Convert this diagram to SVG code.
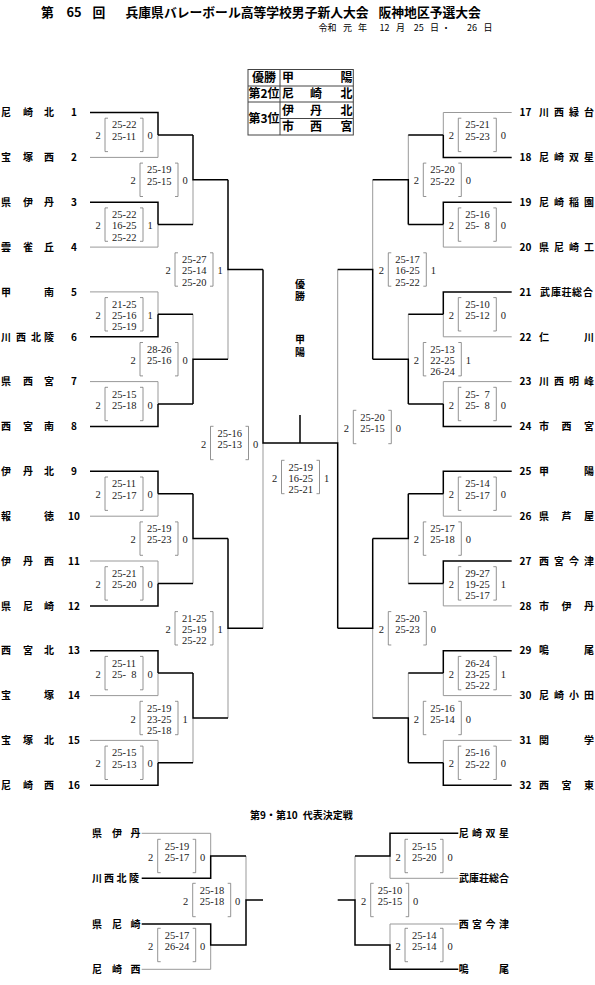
<svg xmlns="http://www.w3.org/2000/svg" xmlns:xlink="http://www.w3.org/1999/xlink" width="595" height="985" viewBox="0 0 595 985">
<style>
.ttl{font-family:"Noto Sans CJK JP","Noto Sans",sans-serif;font-size:12.8px;font-weight:bold;fill:#000}
.sub{font-family:"Noto Sans CJK JP","Noto Sans",sans-serif;font-size:9px;fill:#000}
.lbl{font-family:"Noto Sans CJK JP","Noto Sans",sans-serif;font-size:10px;font-weight:bold;fill:#000;text-anchor:middle}
.lg{font-family:"Noto Sans CJK JP","Noto Sans",sans-serif;font-size:12px;font-weight:bold;fill:#000;text-anchor:middle}
.sc{font-family:"Liberation Serif",serif;font-size:10.5px;fill:#222}
.sn{font-family:"Liberation Serif",serif;font-size:10.5px;fill:#222;text-anchor:middle}
.w{fill:none;stroke:#000;stroke-width:1.5}
.l{fill:none;stroke:#999;stroke-width:1}
.b{fill:none;stroke:#777;stroke-width:0.8}
</style>
<defs>
<path id="brk" class="b" d="M3,-16.7H0V16.7H3M35,-16.7H38V16.7H35"/>
</defs>
<rect width="595" height="985" fill="#fff"/>
<g id="title">
<text class="ttl" y="17"><tspan x="41">第</tspan><tspan x="66.5">65</tspan><tspan x="92.5">回</tspan><tspan x="125.5">兵庫県バレーボール高等学校男子新人大会</tspan><tspan x="378.5">阪神地区予選大会</tspan></text>
<text class="sub" y="31"><tspan x="318.5">令和</tspan><tspan x="343">元</tspan><tspan x="358">年</tspan><tspan x="379.5">12</tspan><tspan x="396">月</tspan><tspan x="413.8">25</tspan><tspan x="430">日</tspan><tspan x="441.5">・</tspan><tspan x="467">26</tspan><tspan x="483.5">日</tspan></text>
</g>
<g id="legend">
<rect x="248" y="69.5" width="105.3" height="65.5" fill="none" stroke="#444" stroke-width="1"/>
<path d="M280,69.5V135M248,86H353.3M248,102H353.3M280,118.5H353.3" fill="none" stroke="#444" stroke-width="1"/>
<text class="lg" x="264" y="82.2">優勝</text>
<text class="lg" x="264" y="98.4">第2位</text>
<text class="lg" x="264" y="123.3">第3位</text>
<text class="lg" x="288 346.5" y="82.2">甲陽</text>
<text class="lg" x="288 316 346.5" y="98.4">尼崎北</text>
<text class="lg" x="288 316 346.5" y="114.7">伊丹北</text>
<text class="lg" x="288 316 346.5" y="131.2">市西宮</text>
</g>
<g id="champion">
<text class="lbl" x="300 300" y="287.5 300">優勝</text>
<text class="lbl" x="300 300" y="343 356">甲陽</text>
</g>
<g id="connectors">
<path class="l" d="M90,157.4H158V134.9M90,247.1H158V224.6M90,291.9H158V314.3M90,381.6H158V404M90,516.2H158V493.7M90,561H158V583.4M90,695.6H158V673.1M90,740.4H158V762.8M193,224.6V179.8M193,314.3V359.2M193,583.4V538.6M193,762.8V718M228,359.2V269.5M228,718V628.3M263,628.3V443"/>
<path class="l" d="M511.7,112.5H443.3V134.9M511.7,247.1H443.3V224.6M511.7,336.8H443.3V314.3M511.7,381.6H443.3V404M511.7,516.2H443.3V493.7M511.7,605.9H443.3V583.4M511.7,695.6H443.3V673.1M511.7,740.4H443.3V762.8M408.3,134.9V179.8M408.3,314.3V359.2M408.3,583.4V538.6M408.3,673.1V718M372.7,179.8V269.5M372.7,718V628.3M337.7,269.5V443"/>
<path class="l" d="M141.7,833.3H210.7V856M141.7,969.3H210.7V945M246,856V900M458.3,878.3H390V856M458.3,924H390V945M355,856V900"/>
<path class="w" d="M90,112.5H158V134.9M90,202.2H158V224.6M90,336.8H158V314.3M90,426.5H158V404M90,471.3H158V493.7M90,605.9H158V583.4M90,650.7H158V673.1M90,785.3H158V762.8M158,134.9H193M158,224.6H193M158,314.3H193M158,404H193M158,493.7H193M158,583.4H193M158,673.1H193M158,762.8H193M193,134.9V179.8H228M193,404V359.2H228M193,493.7V538.6H228M193,673.1V718H228M228,179.8V269.5H263M228,538.6V628.3H263M263,269.5V443H300"/>
<path class="w" d="M511.7,157.4H443.3V134.9M511.7,202.2H443.3V224.6M511.7,291.9H443.3V314.3M511.7,426.5H443.3V404M511.7,471.3H443.3V493.7M511.7,561H443.3V583.4M511.7,650.7H443.3V673.1M511.7,785.3H443.3V762.8M443.3,134.9H408.3M443.3,224.6H408.3M443.3,314.3H408.3M443.3,404H408.3M443.3,493.7H408.3M443.3,583.4H408.3M443.3,673.1H408.3M443.3,762.8H408.3M408.3,224.6V179.8H372.7M408.3,404V359.2H372.7M408.3,493.7V538.6H372.7M408.3,762.8V718H372.7M372.7,359.2V269.5H337.7M372.7,538.6V628.3H337.7M337.7,628.3V443H300M300,443V415"/>
<path class="w" d="M141.7,878.3H210.7V856H246M141.7,924H210.7V945H246V900H263M458.3,833.3H390V856H355M458.3,969.3H390V945H355V900H337.7"/>
</g>
<g id="teams-left">
<g id="t1"><text class="lbl" x="6 28 49" y="116.2">尼崎北</text><text class="lbl" x="74" y="116.2">1</text></g>
<g id="t2"><text class="lbl" x="6 28 49" y="161.1">宝塚西</text><text class="lbl" x="74" y="161.1">2</text></g>
<g id="t3"><text class="lbl" x="6 28 49" y="205.9">県伊丹</text><text class="lbl" x="74" y="205.9">3</text></g>
<g id="t4"><text class="lbl" x="6 28 49" y="250.8">雲雀丘</text><text class="lbl" x="74" y="250.8">4</text></g>
<g id="t5"><text class="lbl" x="6 49" y="295.6">甲南</text><text class="lbl" x="74" y="295.6">5</text></g>
<g id="t6"><text class="lbl" x="6 21 36 49" y="340.5">川西北陵</text><text class="lbl" x="74" y="340.5">6</text></g>
<g id="t7"><text class="lbl" x="6 28 49" y="385.3">県西宮</text><text class="lbl" x="74" y="385.3">7</text></g>
<g id="t8"><text class="lbl" x="6 28 49" y="430.2">西宮南</text><text class="lbl" x="74" y="430.2">8</text></g>
<g id="t9"><text class="lbl" x="6 28 49" y="475">伊丹北</text><text class="lbl" x="74" y="475">9</text></g>
<g id="t10"><text class="lbl" x="6 49" y="519.9">報徳</text><text class="lbl" x="74" y="519.9">10</text></g>
<g id="t11"><text class="lbl" x="6 28 49" y="564.7">伊丹西</text><text class="lbl" x="74" y="564.7">11</text></g>
<g id="t12"><text class="lbl" x="6 28 49" y="609.6">県尼崎</text><text class="lbl" x="74" y="609.6">12</text></g>
<g id="t13"><text class="lbl" x="6 28 49" y="654.4">西宮北</text><text class="lbl" x="74" y="654.4">13</text></g>
<g id="t14"><text class="lbl" x="6 49" y="699.3">宝塚</text><text class="lbl" x="74" y="699.3">14</text></g>
<g id="t15"><text class="lbl" x="6 28 49" y="744.1">宝塚北</text><text class="lbl" x="74" y="744.1">15</text></g>
<g id="t16"><text class="lbl" x="6 28 49" y="789">尼崎西</text><text class="lbl" x="74" y="789">16</text></g>
</g>
<g id="teams-right">
<g id="t17"><text class="lbl" x="525.5" y="116.2">17</text><text class="lbl" x="544 559 574 589" y="116.2">川西緑台</text></g>
<g id="t18"><text class="lbl" x="525.5" y="161.1">18</text><text class="lbl" x="544 559 574 589" y="161.1">尼崎双星</text></g>
<g id="t19"><text class="lbl" x="525.5" y="205.9">19</text><text class="lbl" x="544 559 574 589" y="205.9">尼崎稲園</text></g>
<g id="t20"><text class="lbl" x="525.5" y="250.8">20</text><text class="lbl" x="544 559 574 589" y="250.8">県尼崎工</text></g>
<g id="t21"><text class="lbl" x="525.5" y="295.6">21</text><text class="lbl" x="545 556 566.5 577 588" y="295.6">武庫荘総合</text></g>
<g id="t22"><text class="lbl" x="525.5" y="340.5">22</text><text class="lbl" x="544 589" y="340.5">仁川</text></g>
<g id="t23"><text class="lbl" x="525.5" y="385.3">23</text><text class="lbl" x="544 559 574 589" y="385.3">川西明峰</text></g>
<g id="t24"><text class="lbl" x="525.5" y="430.2">24</text><text class="lbl" x="544 566.5 589" y="430.2">市西宮</text></g>
<g id="t25"><text class="lbl" x="525.5" y="475">25</text><text class="lbl" x="544 589" y="475">甲陽</text></g>
<g id="t26"><text class="lbl" x="525.5" y="519.9">26</text><text class="lbl" x="544 566.5 589" y="519.9">県芦屋</text></g>
<g id="t27"><text class="lbl" x="525.5" y="564.7">27</text><text class="lbl" x="544 559 574 589" y="564.7">西宮今津</text></g>
<g id="t28"><text class="lbl" x="525.5" y="609.6">28</text><text class="lbl" x="544 566.5 589" y="609.6">市伊丹</text></g>
<g id="t29"><text class="lbl" x="525.5" y="654.4">29</text><text class="lbl" x="544 589" y="654.4">鳴尾</text></g>
<g id="t30"><text class="lbl" x="525.5" y="699.3">30</text><text class="lbl" x="544 559 574 589" y="699.3">尼崎小田</text></g>
<g id="t31"><text class="lbl" x="525.5" y="744.1">31</text><text class="lbl" x="544 589" y="744.1">関学</text></g>
<g id="t32"><text class="lbl" x="525.5" y="789">32</text><text class="lbl" x="544 566.5 589" y="789">西宮東</text></g>
</g>
<g id="playoff">
<text class="ttl" style="font-size:10px" y="818.7"><tspan x="250">第9・第10</tspan><tspan x="302.7">代表決定戦</tspan></text>
<g id="p1"><text class="lbl" x="97 117 135.5" y="837">県伊丹</text></g>
<g id="p2"><text class="lbl" x="97 109 121.5 134" y="882">川西北陵</text></g>
<g id="p3"><text class="lbl" x="97 117 135.5" y="927.7">県尼崎</text></g>
<g id="p4"><text class="lbl" x="97 117 135.5" y="973">尼崎西</text></g>
<g id="p5"><text class="lbl" x="463.7 477 490.5 504" y="837">尼崎双星</text></g>
<g id="p6"><text class="lbl" x="464 474 484 494 504" y="882">武庫荘総合</text></g>
<g id="p7"><text class="lbl" x="463.7 477 490.5 504" y="927.7">西宮今津</text></g>
<g id="p8"><text class="lbl" x="463.7 504" y="973">鳴尾</text></g>
</g>
<g id="scores">
<g transform="translate(105,134.9)"><use href="#brk"/><text class="sn" x="-7" y="4.5">2</text><text class="sc"><tspan x="7" y="-6.5">25-22</tspan><tspan x="7" y="4.8">25-11</tspan></text><text class="sn" x="45" y="4.5">0</text></g>
<g transform="translate(105,224.6)"><use href="#brk"/><text class="sn" x="-7" y="4.5">2</text><text class="sc"><tspan x="7" y="-6.5">25-22</tspan><tspan x="7" y="4.8">16-25</tspan><tspan x="7" y="16">25-22</tspan></text><text class="sn" x="45" y="4.5">1</text></g>
<g transform="translate(105,314.3)"><use href="#brk"/><text class="sn" x="-7" y="4.5">2</text><text class="sc"><tspan x="7" y="-6.5">21-25</tspan><tspan x="7" y="4.8">25-16</tspan><tspan x="7" y="16">25-19</tspan></text><text class="sn" x="45" y="4.5">1</text></g>
<g transform="translate(105,404)"><use href="#brk"/><text class="sn" x="-7" y="4.5">2</text><text class="sc"><tspan x="7" y="-6.5">25-15</tspan><tspan x="7" y="4.8">25-18</tspan></text><text class="sn" x="45" y="4.5">0</text></g>
<g transform="translate(105,493.7)"><use href="#brk"/><text class="sn" x="-7" y="4.5">2</text><text class="sc"><tspan x="7" y="-6.5">25-11</tspan><tspan x="7" y="4.8">25-17</tspan></text><text class="sn" x="45" y="4.5">0</text></g>
<g transform="translate(105,583.4)"><use href="#brk"/><text class="sn" x="-7" y="4.5">2</text><text class="sc"><tspan x="7" y="-6.5">25-21</tspan><tspan x="7" y="4.8">25-20</tspan></text><text class="sn" x="45" y="4.5">0</text></g>
<g transform="translate(105,673.1)"><use href="#brk"/><text class="sn" x="-7" y="4.5">2</text><text class="sc"><tspan x="7" y="-6.5">25-11</tspan><tspan x="7" y="4.8">25- <tspan dx="2.6">8</tspan></tspan></text><text class="sn" x="45" y="4.5">0</text></g>
<g transform="translate(105,762.8)"><use href="#brk"/><text class="sn" x="-7" y="4.5">2</text><text class="sc"><tspan x="7" y="-6.5">25-15</tspan><tspan x="7" y="4.8">25-13</tspan></text><text class="sn" x="45" y="4.5">0</text></g>
<g transform="translate(140,179.8)"><use href="#brk"/><text class="sn" x="-7" y="4.5">2</text><text class="sc"><tspan x="7" y="-6.5">25-19</tspan><tspan x="7" y="4.8">25-15</tspan></text><text class="sn" x="45" y="4.5">0</text></g>
<g transform="translate(140,359.2)"><use href="#brk"/><text class="sn" x="-7" y="4.5">2</text><text class="sc"><tspan x="7" y="-6.5">28-26</tspan><tspan x="7" y="4.8">25-16</tspan></text><text class="sn" x="45" y="4.5">0</text></g>
<g transform="translate(140,538.6)"><use href="#brk"/><text class="sn" x="-7" y="4.5">2</text><text class="sc"><tspan x="7" y="-6.5">25-19</tspan><tspan x="7" y="4.8">25-23</tspan></text><text class="sn" x="45" y="4.5">0</text></g>
<g transform="translate(140,718)"><use href="#brk"/><text class="sn" x="-7" y="4.5">2</text><text class="sc"><tspan x="7" y="-6.5">25-19</tspan><tspan x="7" y="4.8">23-25</tspan><tspan x="7" y="16">25-18</tspan></text><text class="sn" x="45" y="4.5">1</text></g>
<g transform="translate(175,269.5)"><use href="#brk"/><text class="sn" x="-7" y="4.5">2</text><text class="sc"><tspan x="7" y="-6.5">25-27</tspan><tspan x="7" y="4.8">25-14</tspan><tspan x="7" y="16">25-20</tspan></text><text class="sn" x="45" y="4.5">1</text></g>
<g transform="translate(175,628.3)"><use href="#brk"/><text class="sn" x="-7" y="4.5">2</text><text class="sc"><tspan x="7" y="-6.5">21-25</tspan><tspan x="7" y="4.8">25-19</tspan><tspan x="7" y="16">25-22</tspan></text><text class="sn" x="45" y="4.5">1</text></g>
<g transform="translate(210.5,443)"><use href="#brk"/><text class="sn" x="-7" y="4.5">2</text><text class="sc"><tspan x="7" y="-6.5">25-16</tspan><tspan x="7" y="4.8">25-13</tspan></text><text class="sn" x="45" y="4.5">0</text></g>
<g transform="translate(281.5,477)"><use href="#brk"/><text class="sn" x="-7" y="4.5">2</text><text class="sc"><tspan x="7" y="-6.5">25-19</tspan><tspan x="7" y="4.8">16-25</tspan><tspan x="7" y="16">25-21</tspan></text><text class="sn" x="45" y="4.5">1</text></g>
<g transform="translate(458.3,134.9)"><use href="#brk"/><text class="sn" x="-7" y="4.5">2</text><text class="sc"><tspan x="7" y="-6.5">25-21</tspan><tspan x="7" y="4.8">25-23</tspan></text><text class="sn" x="45" y="4.5">0</text></g>
<g transform="translate(458.3,224.6)"><use href="#brk"/><text class="sn" x="-7" y="4.5">2</text><text class="sc"><tspan x="7" y="-6.5">25-16</tspan><tspan x="7" y="4.8">25- <tspan dx="2.6">8</tspan></tspan></text><text class="sn" x="45" y="4.5">0</text></g>
<g transform="translate(458.3,314.3)"><use href="#brk"/><text class="sn" x="-7" y="4.5">2</text><text class="sc"><tspan x="7" y="-6.5">25-10</tspan><tspan x="7" y="4.8">25-12</tspan></text><text class="sn" x="45" y="4.5">0</text></g>
<g transform="translate(458.3,404)"><use href="#brk"/><text class="sn" x="-7" y="4.5">2</text><text class="sc"><tspan x="7" y="-6.5">25- <tspan dx="2.6">7</tspan></tspan><tspan x="7" y="4.8">25- <tspan dx="2.6">8</tspan></tspan></text><text class="sn" x="45" y="4.5">0</text></g>
<g transform="translate(458.3,493.7)"><use href="#brk"/><text class="sn" x="-7" y="4.5">2</text><text class="sc"><tspan x="7" y="-6.5">25-14</tspan><tspan x="7" y="4.8">25-17</tspan></text><text class="sn" x="45" y="4.5">0</text></g>
<g transform="translate(458.3,583.4)"><use href="#brk"/><text class="sn" x="-7" y="4.5">2</text><text class="sc"><tspan x="7" y="-6.5">29-27</tspan><tspan x="7" y="4.8">19-25</tspan><tspan x="7" y="16">25-17</tspan></text><text class="sn" x="45" y="4.5">1</text></g>
<g transform="translate(458.3,673.1)"><use href="#brk"/><text class="sn" x="-7" y="4.5">2</text><text class="sc"><tspan x="7" y="-6.5">26-24</tspan><tspan x="7" y="4.8">23-25</tspan><tspan x="7" y="16">25-22</tspan></text><text class="sn" x="45" y="4.5">1</text></g>
<g transform="translate(458.3,762.8)"><use href="#brk"/><text class="sn" x="-7" y="4.5">2</text><text class="sc"><tspan x="7" y="-6.5">25-16</tspan><tspan x="7" y="4.8">25-22</tspan></text><text class="sn" x="45" y="4.5">0</text></g>
<g transform="translate(423.3,179.8)"><use href="#brk"/><text class="sn" x="-7" y="4.5">2</text><text class="sc"><tspan x="7" y="-6.5">25-20</tspan><tspan x="7" y="4.8">25-22</tspan></text><text class="sn" x="45" y="4.5">0</text></g>
<g transform="translate(423.3,359.2)"><use href="#brk"/><text class="sn" x="-7" y="4.5">2</text><text class="sc"><tspan x="7" y="-6.5">25-13</tspan><tspan x="7" y="4.8">22-25</tspan><tspan x="7" y="16">26-24</tspan></text><text class="sn" x="45" y="4.5">1</text></g>
<g transform="translate(423.3,538.6)"><use href="#brk"/><text class="sn" x="-7" y="4.5">2</text><text class="sc"><tspan x="7" y="-6.5">25-17</tspan><tspan x="7" y="4.8">25-18</tspan></text><text class="sn" x="45" y="4.5">0</text></g>
<g transform="translate(423.3,718)"><use href="#brk"/><text class="sn" x="-7" y="4.5">2</text><text class="sc"><tspan x="7" y="-6.5">25-16</tspan><tspan x="7" y="4.8">25-14</tspan></text><text class="sn" x="45" y="4.5">0</text></g>
<g transform="translate(388.3,269.5)"><use href="#brk"/><text class="sn" x="-7" y="4.5">2</text><text class="sc"><tspan x="7" y="-6.5">25-17</tspan><tspan x="7" y="4.8">16-25</tspan><tspan x="7" y="16">25-22</tspan></text><text class="sn" x="45" y="4.5">1</text></g>
<g transform="translate(388.3,628.3)"><use href="#brk"/><text class="sn" x="-7" y="4.5">2</text><text class="sc"><tspan x="7" y="-6.5">25-20</tspan><tspan x="7" y="4.8">25-23</tspan></text><text class="sn" x="45" y="4.5">0</text></g>
<g transform="translate(353.3,427)"><use href="#brk"/><text class="sn" x="-7" y="4.5">2</text><text class="sc"><tspan x="7" y="-6.5">25-20</tspan><tspan x="7" y="4.8">25-15</tspan></text><text class="sn" x="45" y="4.5">0</text></g>
<g transform="translate(157.7,856)"><use href="#brk"/><text class="sn" x="-7" y="4.5">2</text><text class="sc"><tspan x="7" y="-6.5">25-19</tspan><tspan x="7" y="4.8">25-17</tspan></text><text class="sn" x="45" y="4.5">0</text></g>
<g transform="translate(192.7,900)"><use href="#brk"/><text class="sn" x="-7" y="4.5">2</text><text class="sc"><tspan x="7" y="-6.5">25-18</tspan><tspan x="7" y="4.8">25-18</tspan></text><text class="sn" x="45" y="4.5">0</text></g>
<g transform="translate(157.7,945)"><use href="#brk"/><text class="sn" x="-7" y="4.5">2</text><text class="sc"><tspan x="7" y="-6.5">25-17</tspan><tspan x="7" y="4.8">26-24</tspan></text><text class="sn" x="45" y="4.5">0</text></g>
<g transform="translate(405,856)"><use href="#brk"/><text class="sn" x="-7" y="4.5">2</text><text class="sc"><tspan x="7" y="-6.5">25-15</tspan><tspan x="7" y="4.8">25-20</tspan></text><text class="sn" x="45" y="4.5">0</text></g>
<g transform="translate(370.7,900)"><use href="#brk"/><text class="sn" x="-7" y="4.5">2</text><text class="sc"><tspan x="7" y="-6.5">25-10</tspan><tspan x="7" y="4.8">25-15</tspan></text><text class="sn" x="45" y="4.5">0</text></g>
<g transform="translate(405,945)"><use href="#brk"/><text class="sn" x="-7" y="4.5">2</text><text class="sc"><tspan x="7" y="-6.5">25-14</tspan><tspan x="7" y="4.8">25-14</tspan></text><text class="sn" x="45" y="4.5">0</text></g>
</g>
</svg>
